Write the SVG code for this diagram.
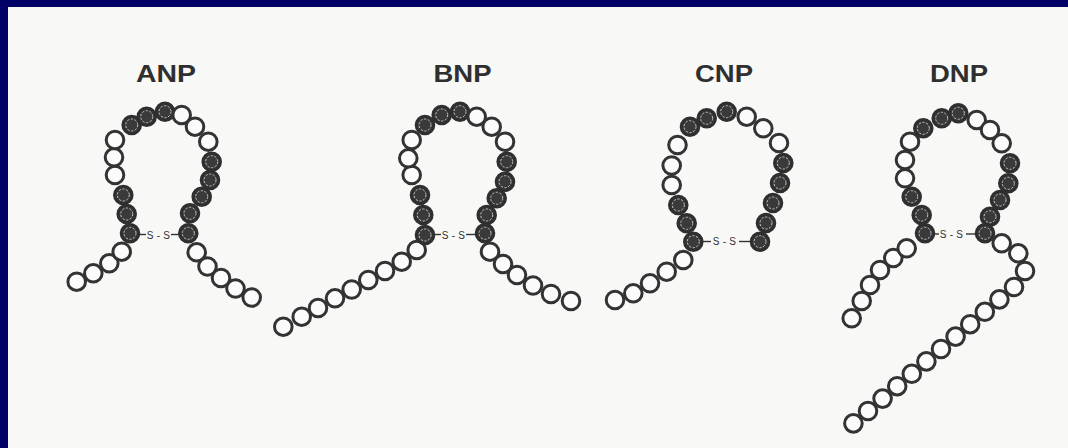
<svg xmlns="http://www.w3.org/2000/svg" xmlns:xlink="http://www.w3.org/1999/xlink" width="1068" height="448" viewBox="0 0 1068 448">
  <style>
    .title { font-family: "Liberation Sans", Arial, sans-serif; font-weight: bold; font-size: 23px; fill: #2f2f2f; text-anchor: middle; }
    .ss { font-family: "Liberation Sans", Arial, sans-serif; font-size: 10px; fill: #333; text-anchor: middle; letter-spacing: 3.3px; }
    .bond { stroke: #333; stroke-width: 1.4; fill: none; }
  </style>
  <defs>
    <!-- plain residue -->
    <g id="w">
      <circle r="8.8" fill="#fbfbfb" stroke="#333" stroke-width="3"/>
    </g>
    <!-- highlighted residue: dark bead with a dashed light ring -->
    <g id="f">
      <circle r="8.8" fill="#3a3a3a" stroke="#2f2f2f" stroke-width="3"/>
      <circle r="6" fill="none" stroke="#c4c4c4" stroke-width="1" stroke-dasharray="2.2 1.6"/>
    </g>
  </defs>

  <!-- page frame -->
  <rect x="0" y="0" width="1068" height="448" fill="#000066"/>
  <rect x="8" y="7" width="1060" height="441" fill="#f8f8f7"/>

  <!-- disulfide bridges -->
  <g id="connectors">
    <line class="bond" x1="139" y1="234.5" x2="146" y2="234.5"/>
    <line class="bond" x1="171" y1="234.5" x2="179" y2="234.5"/>
    <line class="bond" x1="434" y1="234.5" x2="441" y2="234.5"/>
    <line class="bond" x1="466" y1="234.5" x2="476" y2="234.5"/>
    <line class="bond" x1="702" y1="241.5" x2="711" y2="241.5"/>
    <line class="bond" x1="739" y1="241.5" x2="750" y2="241.5"/>
    <line class="bond" x1="934" y1="234" x2="939" y2="234"/>
    <line class="bond" x1="966" y1="234" x2="976" y2="234"/>
  </g>

  <g id="anp">
    <text class="title" x="166" y="82" textLength="60" lengthAdjust="spacingAndGlyphs">ANP</text>
    <text class="ss" x="160" y="238.5">S-S</text>
    <use href="#w" x="76.7" y="281.7"/>
    <use href="#w" x="93.3" y="273.3"/>
    <use href="#w" x="109.3" y="263.3"/>
    <use href="#w" x="121.7" y="251.7"/>
    <use href="#f" x="130" y="233.3"/>
    <use href="#f" x="126.7" y="214"/>
    <use href="#f" x="123.3" y="195"/>
    <use href="#w" x="115" y="175"/>
    <use href="#w" x="114" y="157.3"/>
    <use href="#w" x="115" y="140"/>
    <use href="#f" x="131.7" y="125"/>
    <use href="#f" x="146.7" y="116.7"/>
    <use href="#f" x="165" y="111.7"/>
    <use href="#w" x="181.7" y="115"/>
    <use href="#w" x="195" y="126.7"/>
    <use href="#w" x="208.3" y="141.7"/>
    <use href="#f" x="211.7" y="161.7"/>
    <use href="#f" x="210" y="180"/>
    <use href="#f" x="201.7" y="196.7"/>
    <use href="#f" x="190" y="213.3"/>
    <use href="#f" x="188.3" y="233.3"/>
    <use href="#w" x="196.7" y="252.3"/>
    <use href="#w" x="207.5" y="266.5"/>
    <use href="#w" x="221" y="278"/>
    <use href="#w" x="235.5" y="288.5"/>
    <use href="#w" x="251.7" y="297.5"/>
  </g>

  <g id="bnp">
    <text class="title" x="462.5" y="82" textLength="58" lengthAdjust="spacingAndGlyphs">BNP</text>
    <text class="ss" x="455" y="238.5">S-S</text>
    <use href="#w" x="283.3" y="326.7"/>
    <use href="#w" x="301.7" y="316.7"/>
    <use href="#w" x="318" y="308"/>
    <use href="#w" x="335" y="298.3"/>
    <use href="#w" x="351.7" y="289.5"/>
    <use href="#w" x="368.3" y="280"/>
    <use href="#w" x="385" y="271"/>
    <use href="#w" x="401.7" y="261.7"/>
    <use href="#w" x="416.7" y="250"/>
    <use href="#f" x="425" y="235"/>
    <use href="#f" x="423.3" y="215"/>
    <use href="#f" x="420" y="195"/>
    <use href="#w" x="411.7" y="175"/>
    <use href="#w" x="408.3" y="158.3"/>
    <use href="#w" x="411.7" y="140"/>
    <use href="#f" x="425" y="125"/>
    <use href="#f" x="441.7" y="115"/>
    <use href="#f" x="460" y="111.7"/>
    <use href="#w" x="476.7" y="116.7"/>
    <use href="#w" x="491.7" y="126.7"/>
    <use href="#w" x="505" y="141.7"/>
    <use href="#f" x="506.7" y="161.7"/>
    <use href="#f" x="505" y="181.7"/>
    <use href="#f" x="496.7" y="198.3"/>
    <use href="#f" x="486.7" y="215"/>
    <use href="#f" x="485" y="233.3"/>
    <use href="#w" x="490" y="251.7"/>
    <use href="#w" x="503" y="264"/>
    <use href="#w" x="517" y="275"/>
    <use href="#w" x="533" y="285.5"/>
    <use href="#w" x="551" y="294"/>
    <use href="#w" x="571" y="301"/>
  </g>

  <g id="cnp">
    <text class="title" x="724" y="82" textLength="58" lengthAdjust="spacingAndGlyphs">CNP</text>
    <text class="ss" x="726" y="245">S-S</text>
    <use href="#w" x="615" y="300"/>
    <use href="#w" x="633.3" y="293.3"/>
    <use href="#w" x="650" y="283.3"/>
    <use href="#w" x="666.7" y="271.7"/>
    <use href="#w" x="683.3" y="260"/>
    <use href="#f" x="693.3" y="241.7"/>
    <use href="#f" x="686.7" y="223.3"/>
    <use href="#f" x="678.3" y="205"/>
    <use href="#w" x="671.7" y="185"/>
    <use href="#w" x="671.7" y="165.5"/>
    <use href="#w" x="677.5" y="145"/>
    <use href="#f" x="690" y="126.7"/>
    <use href="#f" x="706.7" y="118.3"/>
    <use href="#f" x="726.7" y="111.7"/>
    <use href="#w" x="746.7" y="116.7"/>
    <use href="#w" x="763.3" y="128.3"/>
    <use href="#w" x="779" y="143"/>
    <use href="#f" x="783.3" y="163"/>
    <use href="#f" x="780" y="183"/>
    <use href="#f" x="773" y="203"/>
    <use href="#f" x="766" y="223"/>
    <use href="#f" x="760" y="241.7"/>
  </g>

  <g id="dnp">
    <text class="title" x="959" y="82" textLength="58" lengthAdjust="spacingAndGlyphs">DNP</text>
    <text class="ss" x="953" y="238">S-S</text>
    <use href="#w" x="851.7" y="318.3"/>
    <use href="#w" x="861.7" y="301"/>
    <use href="#w" x="870" y="285"/>
    <use href="#w" x="880" y="270"/>
    <use href="#w" x="893.3" y="258"/>
    <use href="#w" x="906.7" y="248.3"/>
    <use href="#f" x="925" y="233.3"/>
    <use href="#f" x="921.7" y="215"/>
    <use href="#f" x="911.7" y="196.7"/>
    <use href="#w" x="905" y="178.3"/>
    <use href="#w" x="905" y="160"/>
    <use href="#w" x="910" y="141.7"/>
    <use href="#f" x="923.3" y="128.3"/>
    <use href="#f" x="941.7" y="118.3"/>
    <use href="#f" x="958.3" y="113.3"/>
    <use href="#w" x="976.7" y="120"/>
    <use href="#w" x="990" y="130"/>
    <use href="#w" x="1001.7" y="143.3"/>
    <use href="#f" x="1010" y="163.3"/>
    <use href="#f" x="1008.3" y="183.3"/>
    <use href="#f" x="1000" y="200"/>
    <use href="#f" x="990" y="216.7"/>
    <use href="#f" x="985" y="233.3"/>
    <use href="#w" x="1001.7" y="243.3"/>
    <use href="#w" x="1018.3" y="253.3"/>
    <use href="#w" x="1025" y="271"/>
    <use href="#w" x="1014" y="287"/>
    <use href="#w" x="999.4" y="299.4"/>
    <use href="#w" x="984.8" y="311.8"/>
    <use href="#w" x="970.2" y="324.2"/>
    <use href="#w" x="955.6" y="336.6"/>
    <use href="#w" x="941" y="349"/>
    <use href="#w" x="926.4" y="361.4"/>
    <use href="#w" x="911.8" y="373.8"/>
    <use href="#w" x="897.2" y="386.2"/>
    <use href="#w" x="882.6" y="398.6"/>
    <use href="#w" x="868" y="411"/>
    <use href="#w" x="853.4" y="423.4"/>
  </g>
</svg>
